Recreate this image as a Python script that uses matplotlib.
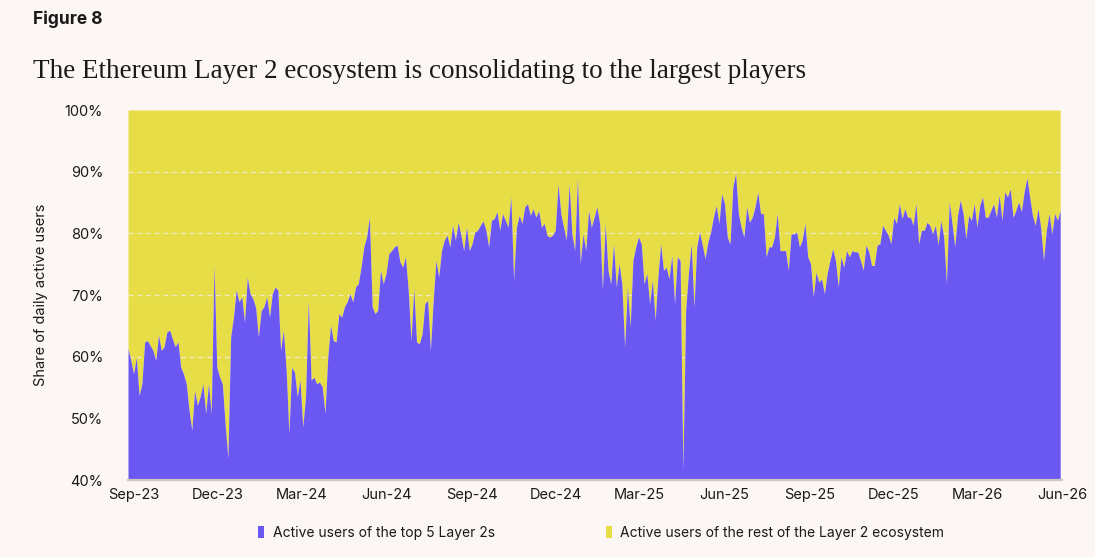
import matplotlib
matplotlib.use("Agg")
import matplotlib.pyplot as plt
from matplotlib.patches import Patch
import numpy as np
import pandas as pd

# ---- data (share of daily active users held by the top 5 Layer 2s, %, every 3 days) ----
start_date = "2023-08-26"
step = "3D"
top5_share = [
    61.3, 59.4, 57.2, 59.9, 53.7, 55.6, 62.4, 62.6, 61.8, 61.0,
    59.4, 63.5, 61.0, 61.6, 64.0, 64.3, 62.9, 61.6, 62.4, 58.3,
    57.2, 55.6, 51.3, 48.1, 54.5, 52.1, 53.5, 55.6, 50.8, 55.6,
    50.8, 74.8, 58.3, 56.7, 55.6, 49.1, 43.5, 63.2, 66.4, 70.8,
    68.9, 69.7, 65.6, 72.9, 70.2, 69.4, 68.0, 63.2, 67.5,
    68.1, 69.7, 66.4, 70.2, 71.3, 70.8, 61.0, 64.3, 57.8, 47.5,
    58.3, 57.5, 53.5, 56.2, 48.6, 53.5, 69.1, 56.2, 56.7, 55.6,
    55.9, 55.1, 50.8, 59.9, 65.1, 62.6, 62.4, 67.0, 66.4, 68.1,
    68.9, 70.2, 68.9, 71.3, 71.8, 74.5, 77.8, 79.4, 82.6, 68.1,
    67.0, 67.5, 74.0, 71.8, 73.5, 76.7, 77.2, 77.8,
    78.1, 75.4, 74.5, 76.2, 70.8, 62.6, 71.0, 62.4, 62.1, 63.7,
    68.6, 69.1, 61.0, 69.1, 75.6, 72.9, 77.2, 78.9, 79.7, 77.8,
    81.3, 78.9, 81.8, 79.7, 77.2, 81.0, 77.2, 78.3, 80.2, 80.5,
    81.3, 82.0, 80.5, 77.8, 82.1, 82.4, 83.5, 80.5, 83.2, 82.1,
    81.0, 85.9, 72.4, 81.0, 82.9, 81.6, 84.3, 84.8,
    82.9, 84.0, 82.6, 83.7, 81.0, 81.6, 79.7, 79.4, 79.7, 80.5,
    88.0, 83.2, 81.0, 78.9, 88.0, 79.9, 77.2, 89.0, 75.1, 79.9,
    77.2, 83.7, 81.0, 82.6, 84.3, 81.6, 70.8, 81.6, 74.0, 71.8,
    78.3, 71.3, 75.1, 71.8, 61.5, 71.3, 64.8, 75.6, 77.8, 79.4,
    78.3, 71.8, 73.5, 68.6, 72.4, 65.9, 72.9, 78.3,
    74.0, 74.5, 72.6, 76.4, 68.6, 76.2, 75.6, 41.6, 67.5, 73.5,
    78.3, 68.0, 77.8, 80.2, 78.1, 75.9, 78.6, 80.2, 82.6, 84.5,
    81.6, 86.4, 84.8, 79.4, 78.3, 87.5, 89.7, 83.2, 81.0, 79.4,
    84.3, 81.8, 82.6, 84.3, 86.7, 83.2, 83.2, 76.2, 77.8, 77.8,
    79.4, 83.2, 77.2, 77.2, 77.2, 74.0, 79.9, 79.9,
    80.2, 77.8, 78.9, 81.6, 76.2, 75.1, 69.7, 73.7, 72.1, 72.6,
    70.2, 73.5, 75.6, 77.5, 75.6, 71.3, 76.2, 74.5, 77.2, 76.2,
    77.2, 77.0, 77.0, 75.6, 74.0, 78.1, 77.0, 74.8, 74.8, 78.1,
    78.3, 81.3, 80.5, 79.7, 78.3, 82.6, 81.6, 84.8, 82.4, 84.0,
    82.6, 82.6, 81.3, 84.8, 78.3, 80.5, 80.5, 81.8, 81.3,
    79.9, 81.3, 78.1, 82.1, 79.4, 71.8, 85.1, 81.6, 77.8, 82.9,
    85.4, 83.2, 79.1, 82.9, 82.1, 84.8, 81.0, 84.5, 85.9, 82.6,
    82.6, 83.7, 84.8, 82.6, 86.2, 82.1, 86.7, 85.9, 87.2, 82.6,
    83.7, 85.1, 83.5, 86.7, 89.0, 85.9, 82.9, 81.3, 84.0, 80.8,
    75.6, 80.5, 83.2, 79.9, 83.2, 82.1, 83.7,
]
tick_labels = ["Sep-23", "Dec-23", "Mar-24", "Jun-24", "Sep-24", "Dec-24",
               "Mar-25", "Jun-25", "Sep-25", "Dec-25", "Mar-26", "Jun-26"]
tick_dates = pd.date_range("2023-09-01", periods=len(tick_labels), freq="3MS")
series_names = ["Active users of the top 5 Layer 2s",
                "Active users of the rest of the Layer 2 ecosystem"]

dates = pd.date_range(start_date, periods=len(top5_share), freq=step)
top5 = np.array(top5_share)
rest = 100.0 - top5

# ---- style ----
BG = "#FCF6F4"
PURPLE = "#6B57F1"
YELLOW = "#E6DD47"
TEXT = "#1A1A1A"

plt.rcParams["font.family"] = ["Inter", "DejaVu Sans"]

fig = plt.figure(figsize=(10.95, 5.57), dpi=100, facecolor=BG)
ax = fig.add_axes([0.1169, 0.1382, 0.9699 - 0.1169, 0.8025 - 0.1382])
ax.set_facecolor(BG)

# yellow (rest) stacked on top of purple (top 5)
ax.fill_between(dates, top5, top5 + rest, color=YELLOW, linewidth=0, zorder=1)
for v in [60, 70, 80, 90]:
    ax.axhline(v, color="#F1EBCB", lw=0.9, ls=(0, (4, 3)), zorder=2)
ax.fill_between(dates, 0, top5, color=PURPLE, linewidth=0, zorder=3)

ax.set_ylim(40, 100)
ax.set_xlim(dates[0], pd.Timestamp("2026-06-01"))
ax.set_yticks(range(40, 101, 10))
ax.set_yticklabels([f"{v}%" for v in range(40, 101, 10)])
ax.set_xticks(tick_dates)
ax.set_xticklabels(tick_labels)
ax.tick_params(axis="both", length=0, labelsize=10.5, colors=TEXT)
ax.tick_params(axis="y", pad=18)
ax.tick_params(axis="x", pad=6)
for s in ["left", "right", "top"]:
    ax.spines[s].set_visible(False)
ax.spines["bottom"].set_color("#CFC8BC")
ax.spines["bottom"].set_linewidth(1.6)
ax.spines["bottom"].set_zorder(4)
ax.set_ylabel("Share of daily active users", fontsize=10.5, color=TEXT, labelpad=12)

fig.text(0.030, 0.965, "Figure 8", fontsize=12.5, fontweight="bold",
         color=TEXT, va="center", ha="left")
fig.text(0.030, 0.872,
         "The Ethereum Layer 2 ecosystem is consolidating to the largest players",
         fontsize=19.5, family="Liberation Serif", color=TEXT, va="center", ha="left")

handles = [Patch(facecolor=PURPLE, edgecolor="none"),
           Patch(facecolor=YELLOW, edgecolor="none")]
fig.legend(handles, series_names, loc="center", bbox_to_anchor=(0.549, 0.043),
           ncol=2, frameon=False, fontsize=10, handlelength=0.45, handleheight=0.9,
           handletextpad=0.6, columnspacing=8.0, labelcolor=TEXT)

fig.savefig("out.png", dpi=100, facecolor=BG)
